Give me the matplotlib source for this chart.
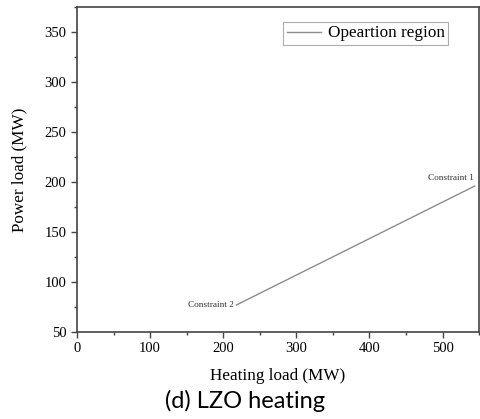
import matplotlib.pyplot as plt
from matplotlib.ticker import MultipleLocator

# operation region line (heating load vs power load)
heat = [218, 544]
power = [77, 196]
point_names = ['Constraint 2', 'Constraint 1']

plt.rcParams['font.family'] = ['Liberation Serif', 'DejaVu Serif']

fig = plt.figure(figsize=(4.81, 4.19), dpi=100)
ax = fig.add_axes([0.160, 0.2076, 0.836, 0.7754])

ax.plot(heat, power, color='#8c8c8c', lw=1.0, label='Opeartion region')

ax.text(heat[0] - 3, power[0], point_names[0], fontsize=6.7, ha='right', va='center', color='#333333')
ax.text(heat[1] - 1, power[1] + 4, point_names[1], fontsize=6.7, ha='right', va='bottom', color='#333333')

ax.set_xlim(0, 550)
ax.set_ylim(50, 375)
ax.xaxis.set_major_locator(MultipleLocator(100))
ax.xaxis.set_minor_locator(MultipleLocator(50))
ax.yaxis.set_major_locator(MultipleLocator(50))
ax.yaxis.set_minor_locator(MultipleLocator(25))
ax.tick_params(which='major', direction='out', length=4, width=1, labelsize=10.5, color='#444444')
ax.tick_params(which='minor', direction='out', length=2.5, width=1, color='#444444')
for s in ax.spines.values():
    s.set_linewidth(1.2)
    s.set_color('#444444')

ax.set_xlabel('Heating load (MW)', fontsize=12.3, labelpad=9)
ax.set_ylabel('Power load (MW)', fontsize=12.3, labelpad=12)

leg = ax.legend(loc='upper right', fontsize=12.3, frameon=True, fancybox=False,
                handlelength=2.0, borderpad=0.2, handletextpad=0.4, borderaxespad=0,
                bbox_to_anchor=(0.923, 0.954))
leg.get_frame().set_edgecolor('#999999')
leg.get_frame().set_linewidth(0.8)

fig.text(0.51, 0.043, '(d) LZO heating', fontsize=17, ha='center', va='center',
         family=['Lato', 'DejaVu Sans'])

fig.savefig('out.png', dpi=100)
